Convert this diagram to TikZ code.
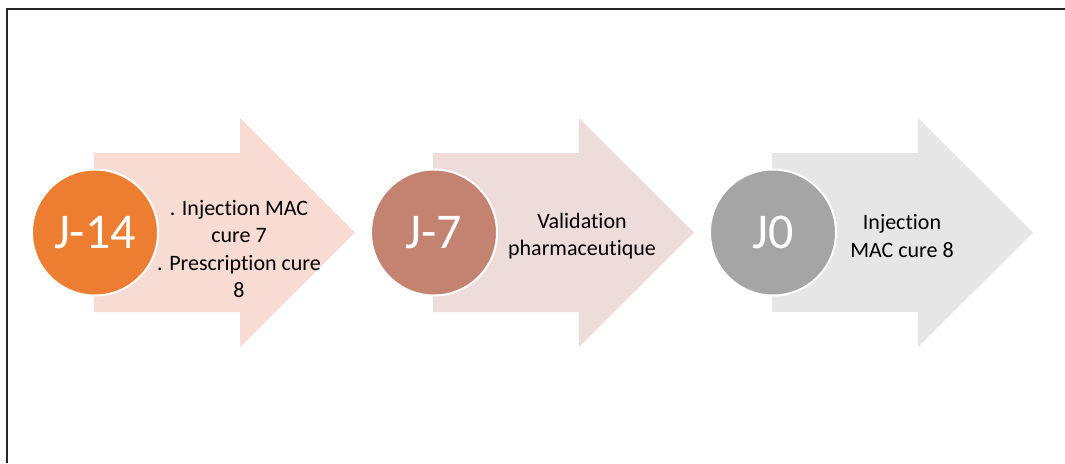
\documentclass[tikz,border=0pt]{standalone}
\usepackage{fontspec}
\setmainfont{Carlito}[Ligatures=NoCommon]
\definecolor{orangeC}{HTML}{ED7D31}
\definecolor{orangeA}{HTML}{F8DBD3}
\definecolor{roseC}{HTML}{C38370}
\definecolor{roseA}{HTML}{EEDCDA}
\definecolor{greyC}{HTML}{A5A5A5}
\definecolor{greyA}{HTML}{E6E6E6}
\tikzset{
  daycircle/.style={circle, draw=white, line width=2pt, minimum size=126pt, inner sep=0pt,
    text=white, font=\fontsize{50}{52}\selectfont},
  steptext/.style={align=center, font=\fontsize{22}{27.5}\selectfont, text=black},
}
\newcommand{\steparrow}[2]{%
  \fill[#2] (#1,153) -- (#1+146,153) -- (#1+146,118) -- (#1+261,232.5)
    -- (#1+146,347) -- (#1+146,312) -- (#1,312) -- cycle;}
\begin{document}
\begin{tikzpicture}[x=1pt,y=-1pt]
\useasboundingbox (0,0) rectangle (1065,463);
\draw[line width=2pt, black!85] (6.5,463) |- (1065,8.5);
\steparrow{94}{orangeA}
\steparrow{433}{roseA}
\steparrow{772}{greyA}
\node[daycircle, fill=orangeC] (c1) at (95,232.5) {J-14};
\node[daycircle, fill=roseC] (c2) at (434,232.5) {J-7};
\node[daycircle, fill=greyC] (c3) at (773,232.5) {J0};
\node[steptext] (t1) at (239,249) {. Injection MAC\\cure 7\\. Prescription cure\\8};
\node[steptext] (t2) at (582,236) {Validation\\pharmaceutique};
\node[steptext] (t3) at (902,236) {Injection\\MAC cure 8};
\end{tikzpicture}
\end{document}
